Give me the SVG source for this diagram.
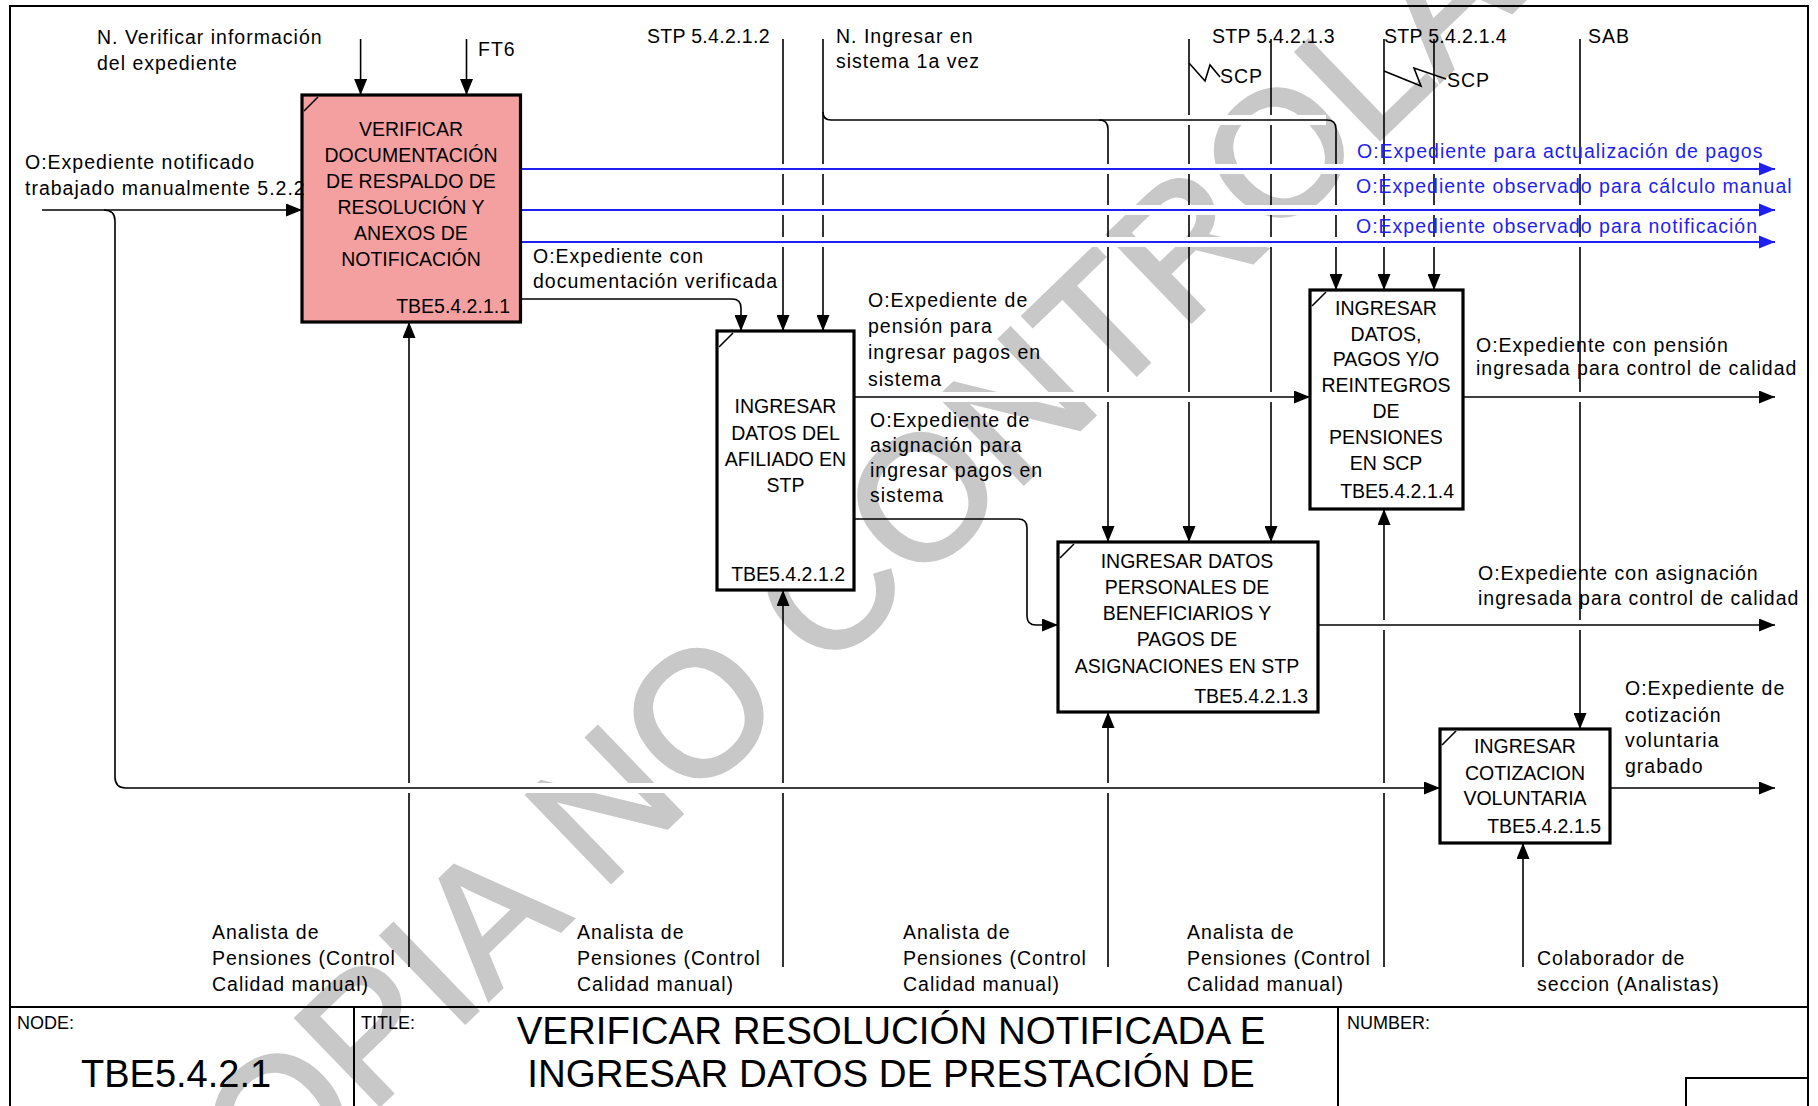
<svg xmlns="http://www.w3.org/2000/svg" width="1818" height="1106" viewBox="0 0 1818 1106">
<style>
text{font-family:"Liberation Sans",Arial,sans-serif;fill:#000}
.lb{font-size:19.5px;letter-spacing:1px}
.bl{font-size:19.5px;letter-spacing:1px;fill:#1f1ff0}
.bx{font-size:19.5px;text-anchor:middle}
.id{font-size:19.5px;text-anchor:end}
.hd{font-size:18px}
.ln{fill:none;stroke:#000;stroke-width:1.6}
.blu{fill:none;stroke:#1f1ff0;stroke-width:2}
.halo{fill:none;stroke:#fff;stroke-width:10}
.box{stroke:#000;stroke-width:3.2}
.frame{fill:none;stroke:#000;stroke-width:2}
.wm{font-size:175px;fill:#c8c8c8;stroke:#c8c8c8;stroke-width:4}
</style>
<defs>
<marker id="ah" viewBox="0 0 16 13" refX="16" refY="6.5" markerWidth="16" markerHeight="13" orient="auto" markerUnits="userSpaceOnUse"><path d="M0,0 L16,6.5 L0,13 z" fill="#000"/></marker>
<marker id="ahb" viewBox="0 0 16 13" refX="16" refY="6.5" markerWidth="16" markerHeight="15" orient="auto" markerUnits="userSpaceOnUse"><path d="M0,0 L16,6.5 L0,13 z" fill="#1f1ff0"/></marker>
</defs>
<rect width="1818" height="1106" fill="#fff"/>
<g id="watermark">
<text class="wm" transform="translate(181,1297) rotate(-44)">COPIA NO CONTROLADA</text>
</g>
<g id="frame">
<path class="frame" d="M10,1106 V6 H1808 V1106"/>
<path class="frame" d="M10,1007 H1808 M354,1007 V1106 M1338,1007 V1106 M1686,1106 V1078 H1808"/>
</g>
<g id="connectors">
<path class="ln" d="M360.6,39 V95" marker-end="url(#ah)"/>
<path class="ln" d="M466.5,39 V95" marker-end="url(#ah)"/>
<path class="ln" d="M783,39 V331" marker-end="url(#ah)"/>
<path class="ln" d="M823,39 V331" marker-end="url(#ah)"/>
<path class="ln" d="M1108,129 V542" marker-end="url(#ah)"/>
<path class="ln" d="M1189,39 V542" marker-end="url(#ah)"/>
<path class="ln" d="M1189,63 L1205,81 L1210,65 L1220,77"/>
<path class="ln" d="M1271,39 V542" marker-end="url(#ah)"/>
<path class="ln" d="M1336,129 V290" marker-end="url(#ah)"/>
<path class="ln" d="M1384,39 V290" marker-end="url(#ah)"/>
<path class="ln" d="M1384,71 L1421,86 L1414,68 L1446,79"/>
<path class="ln" d="M1434,39 V290" marker-end="url(#ah)"/>
<path class="ln" d="M1580,39 V729" marker-end="url(#ah)"/>
<path class="ln" d="M409,967 V322" marker-end="url(#ah)"/>
<path class="ln" d="M783,967 V590" marker-end="url(#ah)"/>
<path class="ln" d="M1108,967 V712" marker-end="url(#ah)"/>
<path class="ln" d="M1384,967 V509" marker-end="url(#ah)"/>
<path class="ln" d="M1523,967 V843" marker-end="url(#ah)"/>
<path class="halo" d="M1116,120 H1326 M530,169 H1760 M530,210 H1760 M530,242 H1760 M862,397 H1300 M1472,397 H1760 M1326,625 H1760 M132,788 H1430"/>
<path class="ln" d="M42,210 H302" marker-end="url(#ah)"/>
<path class="ln" d="M104,210 Q115,210 115,221 V777 Q115,788 126,788 H1440" marker-end="url(#ah)"/>
<path class="ln" d="M823,112 Q823,120 831,120 H1099 Q1108,120 1108,129"/>
<path class="ln" d="M1099,120 H1327 Q1336,120 1336,129"/>
<path class="blu" d="M520.5,169 H1775" marker-end="url(#ahb)"/>
<path class="blu" d="M520.5,210 H1775" marker-end="url(#ahb)"/>
<path class="blu" d="M520.5,242 H1775" marker-end="url(#ahb)"/>
<path class="ln" d="M520.5,299 H732 Q741,299 741,308 V331" marker-end="url(#ah)"/>
<path class="ln" d="M854,397 H1310" marker-end="url(#ah)"/>
<path class="ln" d="M854,519 H1018 Q1027,519 1027,528 V616 Q1027,625 1036,625 H1058" marker-end="url(#ah)"/>
<path class="ln" d="M1463,397 H1775" marker-end="url(#ah)"/>
<path class="ln" d="M1318,625 H1775" marker-end="url(#ah)"/>
<path class="ln" d="M1610,788 H1775" marker-end="url(#ah)"/>
</g>
<g id="node-TBE5.4.2.1.1">
<rect class="box" x="302" y="95" width="218.5" height="227" fill="#f5a0a0"/>
<path class="ln" d="M304,111 L318,97"/>
<text class="bx" x="411" y="136">VERIFICAR</text>
<text class="bx" x="411" y="162">DOCUMENTACIÓN</text>
<text class="bx" x="411" y="188">DE RESPALDO DE</text>
<text class="bx" x="411" y="214">RESOLUCIÓN Y</text>
<text class="bx" x="411" y="240">ANEXOS DE</text>
<text class="bx" x="411" y="266">NOTIFICACIÓN</text>
<text class="id" x="510" y="313">TBE5.4.2.1.1</text>
</g>
<g id="node-TBE5.4.2.1.2">
<rect class="box" x="717" y="331" width="137" height="259" fill="#fff"/>
<path class="ln" d="M719,347 L733,333"/>
<text class="bx" x="785.5" y="413">INGRESAR</text>
<text class="bx" x="785.5" y="440">DATOS DEL</text>
<text class="bx" x="785.5" y="466">AFILIADO EN</text>
<text class="bx" x="785.5" y="492">STP</text>
<text class="id" x="845" y="581">TBE5.4.2.1.2</text>
</g>
<g id="node-TBE5.4.2.1.3">
<rect class="box" x="1058" y="542" width="260" height="170" fill="#fff"/>
<path class="ln" d="M1060,558 L1074,544"/>
<text class="bx" x="1187" y="568">INGRESAR DATOS</text>
<text class="bx" x="1187" y="594">PERSONALES DE</text>
<text class="bx" x="1187" y="620">BENEFICIARIOS Y</text>
<text class="bx" x="1187" y="646">PAGOS DE</text>
<text class="bx" x="1187" y="673">ASIGNACIONES EN STP</text>
<text class="id" x="1308" y="703">TBE5.4.2.1.3</text>
</g>
<g id="node-TBE5.4.2.1.4">
<rect class="box" x="1310" y="290" width="153" height="219" fill="#fff"/>
<path class="ln" d="M1312,306 L1326,292"/>
<text class="bx" x="1386" y="315">INGRESAR</text>
<text class="bx" x="1386" y="341">DATOS,</text>
<text class="bx" x="1386" y="366">PAGOS Y/O</text>
<text class="bx" x="1386" y="392">REINTEGROS</text>
<text class="bx" x="1386" y="418">DE</text>
<text class="bx" x="1386" y="444">PENSIONES</text>
<text class="bx" x="1386" y="470">EN SCP</text>
<text class="id" x="1454" y="498">TBE5.4.2.1.4</text>
</g>
<g id="node-TBE5.4.2.1.5">
<rect class="box" x="1440" y="729" width="170" height="114" fill="#fff"/>
<path class="ln" d="M1442,745 L1456,731"/>
<text class="bx" x="1525" y="753">INGRESAR</text>
<text class="bx" x="1525" y="780">COTIZACION</text>
<text class="bx" x="1525" y="805">VOLUNTARIA</text>
<text class="id" x="1601" y="833">TBE5.4.2.1.5</text>
</g>
<g id="labels">
<text class="lb" x="97" y="44">N. Verificar información</text>
<text class="lb" x="97" y="70">del expediente</text>
<text class="lb" x="478" y="56">FT6</text>
<text class="lb" x="25" y="169">O:Expediente notificado</text>
<text class="lb" x="25" y="195">trabajado manualmente 5.2.2</text>
<text class="lb" x="647" y="43" style="letter-spacing:0.3px">STP 5.4.2.1.2</text>
<text class="lb" x="836" y="43">N. Ingresar en</text>
<text class="lb" x="836" y="68">sistema 1a vez</text>
<text class="lb" x="1212" y="43" style="letter-spacing:0.3px">STP 5.4.2.1.3</text>
<text class="lb" x="1384" y="43" style="letter-spacing:0.3px">STP 5.4.2.1.4</text>
<text class="lb" x="1588" y="43">SAB</text>
<text class="lb" x="1220" y="83">SCP</text>
<text class="lb" x="1447" y="87">SCP</text>
<text class="bl" x="1357" y="158">O:Expediente para actualización de pagos</text>
<text class="bl" x="1356" y="193">O:Expediente observado para cálculo manual</text>
<text class="bl" x="1356" y="233">O:Expediente observado para notificación</text>
<text class="lb" x="533" y="263">O:Expediente con</text>
<text class="lb" x="533" y="288">documentación verificada</text>
<text class="lb" x="868" y="307">O:Expediente de</text>
<text class="lb" x="868" y="333">pensión para</text>
<text class="lb" x="868" y="359">ingresar pagos en</text>
<text class="lb" x="868" y="386">sistema</text>
<text class="lb" x="870" y="427">O:Expediente de</text>
<text class="lb" x="870" y="452">asignación para</text>
<text class="lb" x="870" y="477">ingresar pagos en</text>
<text class="lb" x="870" y="502">sistema</text>
<text class="lb" x="1476" y="352">O:Expediente con pensión</text>
<text class="lb" x="1476" y="375">ingresada para control de calidad</text>
<text class="lb" x="1478" y="580">O:Expediente con asignación</text>
<text class="lb" x="1478" y="605">ingresada para control de calidad</text>
<text class="lb" x="1625" y="695">O:Expediente de</text>
<text class="lb" x="1625" y="722">cotización</text>
<text class="lb" x="1625" y="747">voluntaria</text>
<text class="lb" x="1625" y="773">grabado</text>
<text class="lb" x="212" y="939">Analista de</text>
<text class="lb" x="212" y="965">Pensiones (Control</text>
<text class="lb" x="212" y="991">Calidad manual)</text>
<text class="lb" x="577" y="939">Analista de</text>
<text class="lb" x="577" y="965">Pensiones (Control</text>
<text class="lb" x="577" y="991">Calidad manual)</text>
<text class="lb" x="903" y="939">Analista de</text>
<text class="lb" x="903" y="965">Pensiones (Control</text>
<text class="lb" x="903" y="991">Calidad manual)</text>
<text class="lb" x="1187" y="939">Analista de</text>
<text class="lb" x="1187" y="965">Pensiones (Control</text>
<text class="lb" x="1187" y="991">Calidad manual)</text>
<text class="lb" x="1537" y="965">Colaborador de</text>
<text class="lb" x="1537" y="991">seccion (Analistas)</text>
</g>
<g id="title-block">
<text class="hd" x="17" y="1029">NODE:</text>
<text x="81" y="1087" style="font-size:38px">TBE5.4.2.1</text>
<text class="hd" x="361" y="1029">TITLE:</text>
<text x="891" y="1044" style="font-size:38.5px;text-anchor:middle">VERIFICAR RESOLUCIÓN NOTIFICADA E</text>
<text x="891" y="1087" style="font-size:38.5px;text-anchor:middle">INGRESAR DATOS DE PRESTACIÓN DE</text>
<text x="891" y="1134" style="font-size:38.5px;text-anchor:middle">PRIMERA VEZ</text>
<text class="hd" x="1347" y="1029">NUMBER:</text>
</g>
</svg>
